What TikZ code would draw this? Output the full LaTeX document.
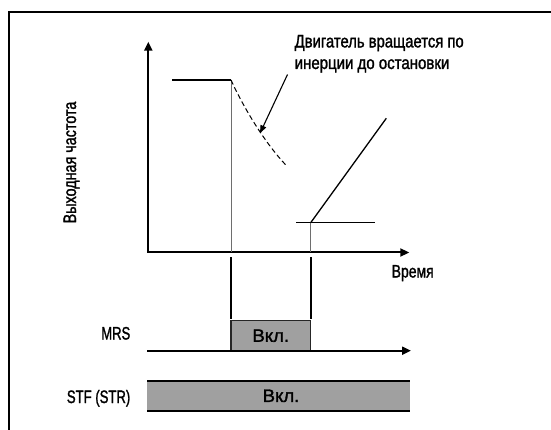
\documentclass[tikz,border=0pt]{standalone}
\usepackage{graphicx}
\usepackage{fontspec}
\setmainfont[RawFeature={embolden=1.6}]{Liberation Sans}
\usetikzlibrary{arrows.meta}
\newcommand{\fw}[2]{{\fontsize{18pt}{21.6pt}\selectfont\resizebox{#1pt}{\height}{#2}}}
\definecolor{boxgray}{RGB}{160,160,160}
\definecolor{linegray}{RGB}{110,110,110}
\tikzset{
  lbl/.style={inner sep=0pt, font=\fontsize{18pt}{21.6pt}\selectfont},
  axis/.style={line width=2pt, -{Triangle[length=9pt,width=8pt]}},
  thinline/.style={line width=1.3pt},
  guide/.style={line width=1pt, draw=linegray},
  marker/.style={line width=1.8pt},
  coast/.style={line width=1pt, dash pattern=on 5pt off 3pt},
  pointer/.style={line width=1.1pt, -{Triangle[length=8pt,width=6pt]}},
  onbox/.style={fill=boxgray, draw=black!85, line width=1.3pt},
}
\begin{document}
\begin{tikzpicture}[x=1pt,y=-1pt]
\useasboundingbox (0,0) rectangle (551,430);
% frame
\coordinate (fb) at (8.5,430);
\coordinate (ftl) at (8.5,12);
\coordinate (fr) at (551,12);
\draw[line width=2pt] (fb) -- (ftl) -- (fr);

% axes
\coordinate (O) at (148.3,252.5);
\coordinate (ytip) at (148.3,41.7);
\coordinate (xtip) at (409.3,252.5);
\draw[axis] (O) -- (ytip);
\draw[axis] ([xshift=-1pt]O) -- (xtip);

% frequency curve
\coordinate (h0) at (172.2,80);
\coordinate (h1) at (231,80);
\coordinate (h1b) at (231,252.5);
\draw[thinline] (h0) -- (h1);
\draw[guide] (h1) -- (h1b);
\coordinate (cEnd) at (286.5,165.7);
\draw[coast] (h1) .. controls (241,102) and (262,140) .. (cEnd);

\coordinate (s0) at (296.2,222.7);
\coordinate (s1) at (375,222.7);
\coordinate (r0) at (310.7,222.7);
\coordinate (r1) at (386.3,118.3);
\coordinate (r0b) at (310.7,252.5);
\draw[line width=1.6pt] (s0) -- (s1);
\draw[thinline] (r0) -- (r1);
\draw[guide] (r0) -- (r0b);

% annotation
\node[lbl, anchor=north west, align=left] (note) at (294.5,34.8)
  {\fw{169}{Двигатель вращается по}\\\fw{154.6}{инерции до остановки}};
\coordinate (pstart) at (287.5,74.5);
\coordinate (ptip) at (260,133.3);
\draw[pointer] (pstart) -- (ptip);

% axis labels
\node[lbl, anchor=base, rotate=90] (ylab) at (76,162.5) {\fw{121.7}{Выходная частота}};
\node[lbl, anchor=base west] (xlab) at (391.5,277.5) {\fw{42}{Время}};

% markers between plots
\coordinate (m1a) at (231,257.3);
\coordinate (m1b) at (231,318.5);
\coordinate (m2a) at (310.7,257.3);
\coordinate (m2b) at (310.7,318.5);
\draw[marker] (m1a) -- (m1b);
\draw[marker] (m2a) -- (m2b);

% MRS
\coordinate (mrs0) at (147.3,350.7);
\coordinate (mrstip) at (411,350.7);
\draw[onbox] (231,350.7) rectangle (310.7,320.7);
\node[lbl] (mrson) at (270.8,335.7) {\fw{36.7}{Вкл.}};
\draw[axis] (mrs0) -- (mrstip);
\node[lbl, anchor=base east] (mrslab) at (130.5,339.5) {\fw{29}{MRS}};

% STF
\coordinate (stfA) at (147.3,381);
\coordinate (stfB) at (410,381);
\coordinate (stfC) at (147.3,410.7);
\coordinate (stfD) at (410,410.7);
\fill[boxgray] (stfA) rectangle (stfD);
\draw[line width=2pt] (stfA) -- (stfB);
\draw[line width=2pt] (stfC) -- (stfD);
\node[lbl] (stfon) at (281,395.8) {\fw{36.7}{Вкл.}};
\node[lbl, anchor=base east] (stflab) at (130.5,403) {\fw{63.4}{STF (STR)}};
\end{tikzpicture}
\end{document}
